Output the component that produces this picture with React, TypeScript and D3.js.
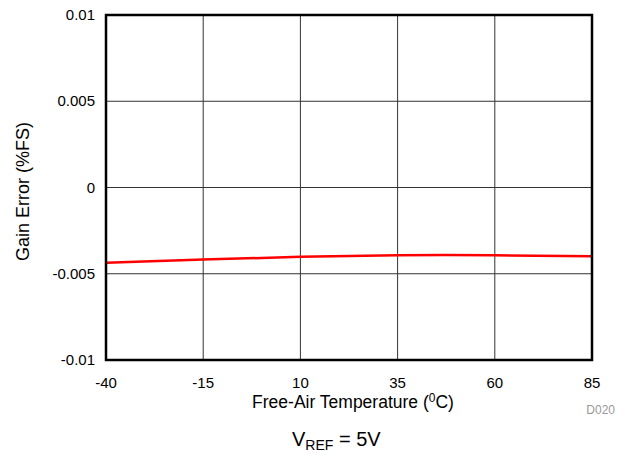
import React from "react";
import * as d3 from "d3";

const temps = [-40, -15, 10, 35, 47.5, 60, 85];
const gainError = [-0.00437, -0.00418, -0.00402, -0.00393, -0.00392, -0.00393, -0.00398];
const xTicks = [-40, -15, 10, 35, 60, 85];
const yTicks = [-0.01, -0.005, 0, 0.005, 0.01];
const yTickLabels = ["-0.01", "-0.005", "0", "0.005", "0.01"];

const W = 631, H = 468;
const L = 106, R = 592, T = 15, B = 360;

export default function App() {
  const x = d3.scaleLinear().domain([-40, 85]).range([L, R]);
  const y = d3.scaleLinear().domain([-0.01, 0.01]).range([B, T]);
  const line = d3.line<number>()
    .x((_, i) => x(temps[i]))
    .y((d) => y(d))
    .curve(d3.curveMonotoneX);
  const font = "Liberation Sans, Arial, sans-serif";
  return (
    <svg width={W} height={H} style={{ position: "absolute", left: 0, top: 0 }} fontFamily={font}>
      <rect x={0} y={0} width={W} height={H} fill="#fff" />
      {xTicks.slice(1, -1).map((t) => (
        <line key={"gx" + t} x1={x(t)} x2={x(t)} y1={T} y2={B} stroke="#333" strokeWidth={1} />
      ))}
      {yTicks.slice(1, -1).map((t) => (
        <line key={"gy" + t} x1={L} x2={R} y1={y(t)} y2={y(t)} stroke="#333" strokeWidth={1} />
      ))}
      <path d={line(gainError) || ""} fill="none" stroke="#ff0000" strokeWidth={2.5} />
      <rect x={L} y={T} width={R - L} height={B - T} fill="none" stroke="#000" strokeWidth={2.5} />
      {xTicks.map((t) => (
        <text key={"tx" + t} x={x(t)} y={388} textAnchor="middle" fontSize={15}>{t}</text>
      ))}
      {yTicks.map((t, i) => (
        <text key={"ty" + t} x={95} y={y(t) + 5} textAnchor="end" fontSize={15}>{yTickLabels[i]}</text>
      ))}
      <text x={(L + R) / 2 + 4} y={408} textAnchor="middle" fontSize={17.5}>
        Free-Air Temperature (<tspan fontSize={12} dy={-6}>0</tspan><tspan dy={6}>C)</tspan>
      </text>
      <text transform={`translate(29, ${(T + B) / 2 + 4}) rotate(-90)`} textAnchor="middle" fontSize={18}>
        Gain Error (%FS)
      </text>
      <text x={615} y={414} textAnchor="end" fontSize={12} fill="#999">D020</text>
      <text x={292} y={446} textAnchor="start" fontSize={20}>
        V<tspan fontSize={14} dy={4}>REF</tspan><tspan dy={-4}> = 5V</tspan>
      </text>
    </svg>
  );
}
